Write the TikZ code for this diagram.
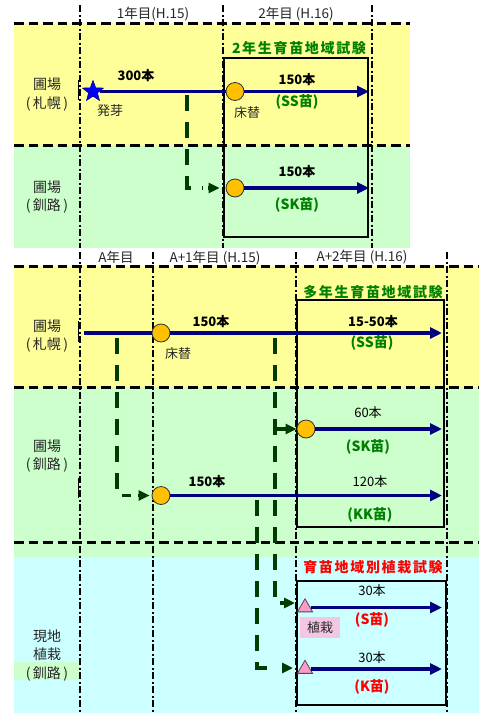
\documentclass[tikz,border=0pt]{standalone}
\usepackage{fontspec}
\setmainfont{Noto Sans CJK JP}
\newfontfamily\ttlfont[LetterSpace=12]{Noto Sans CJK JP}
\usetikzlibrary{shapes.geometric,arrows.meta}
\definecolor{bandY}{HTML}{FFFF99}
\definecolor{bandG}{HTML}{CCFFCC}
\definecolor{bandC}{HTML}{CCFFFF}
\definecolor{navy}{HTML}{000080}
\definecolor{tgreen}{HTML}{008000}
\definecolor{cgreen}{HTML}{003C00}
\definecolor{cfill}{HTML}{FFC000}
\definecolor{tfill}{HTML}{FF99CC}
\definecolor{pinkbg}{HTML}{F3C6E4}
\begin{document}
\begin{tikzpicture}[x=1pt,y=-1pt,
 hdash/.style={line width=3pt, dash pattern=on 9.5pt off 5pt},
 vdash/.style={line width=2pt, dash pattern=on 7pt off 2.5pt on 2pt off 2.5pt},
 flow/.style={navy, line width=3.8pt},
 flowarr/.style={flow, -{Triangle[length=12pt,width=11pt]}},
 conn/.style={cgreen, line width=3.5pt, dash pattern=on 16pt off 11pt},
 conntip/.style={cgreen, line width=3.5pt, -{Triangle[length=11pt,width=10pt]}},
 dot/.style={circle, fill=cfill, draw=black!80, line width=0.8pt, minimum size=18pt, inner sep=0pt},
 tri/.style={regular polygon, regular polygon sides=3, fill=tfill, draw=black!70, line width=0.8pt, minimum size=17.5pt, inner sep=0pt},
 lbl/.style={font=\fontsize{14}{18.5}\selectfont, align=center, inner sep=0pt, text=black!85},
 hdr/.style={font=\fontsize{13.5}{15}\selectfont, inner sep=0pt, text=black!85},
 num/.style={font=\bfseries\fontsize{13}{15}\selectfont, inner sep=0pt},
 numr/.style={font=\fontsize{13}{15}\selectfont, inner sep=0pt},
 kind/.style={font=\bfseries\fontsize{14}{16}\selectfont, inner sep=0pt},
 ttl/.style={font=\ttlfont\bfseries\fontsize{14}{16}\selectfont, inner sep=0pt},
 note/.style={font=\fontsize{13}{15}\selectfont, inner sep=0pt, text=black!85},
 trial/.style={draw=black, line width=1.6pt},
]
\useasboundingbox (0,0) rectangle (479,713);
\fill[white] (0,0) rectangle (479,713);
% bands
\fill[bandY] (14,23) rectangle (410,145);
\fill[bandG] (14,145) rectangle (410,248);
\fill[bandY] (14,266) rectangle (479,387);
\fill[bandG] (14,387) rectangle (479,557);
\fill[bandC] (14,557) rectangle (479,713);
\fill[bandG] (14,662) rectangle (80,680);
% grid lines
\draw[hdash] (14,23) -- (410,23);
\draw[hdash] (14,145) -- (410,145);
\draw[hdash] (14,266) -- (479,266);
\draw[hdash] (14,387) -- (479,387);
\draw[hdash] (14,542) -- (479,542);
\draw[vdash] (80,5) -- (80,248);
\draw[vdash] (223,5) -- (223,248);
\draw[vdash] (372,5) -- (372,248);
\draw[vdash] (80,252) -- (80,713);
\draw[vdash] (153,252) -- (153,713);
\draw[vdash] (296,252) -- (296,713);
\draw[vdash] (447,252) -- (447,713);
\draw[line width=1.2pt] (78.5,80) -- (78.5,100);
\draw[line width=1.2pt] (78.5,321) -- (78.5,342);
\draw[line width=1.2pt] (78.5,478) -- (78.5,498);
% trial boxes
\draw[trial] (224,58) rectangle (368,237);
\draw[trial] (297,300) rectangle (444,527);
\draw[trial] (297,581) rectangle (446,705);
% headers
\node[hdr] (h1) at (153,14) {1年目(H.15)};
\node[hdr] (h2) at (296,14) {2年目 (H.16)};
\node[hdr] (h3) at (116,257) {A年目};
\node[hdr] (h4) at (215,258) {A+1年目 (H.15)};
\node[hdr] (h5) at (362,257) {A+2年目 (H.16)};
% row labels
\node[lbl] (r1) at (47,94.5) {圃場\\(\,札幌\,)};
\node[lbl] (r2) at (47,197) {圃場\\(\,釧路\,)};
\node[lbl] (r3) at (47,336) {圃場\\(\,札幌\,)};
\node[lbl] (r4) at (47,456) {圃場\\(\,釧路\,)};
\node[lbl] (r5) at (47,655) {現地\\植栽\\(\,釧路\,)};
% titles
\node[ttl, text=tgreen] (ttl1) at (299,48) {2年生育苗地域試験};
\node[ttl, text=tgreen] (ttl2) at (373,292) {多年生育苗地域試験};
\node[ttl, text=red] (ttl3) at (373,567) {育苗地域別植栽試験};
% ---- top section ----
\node[star, star points=5, star point ratio=2.4, fill=blue, draw=navy, line width=0.6pt, minimum size=22pt, inner sep=0pt] (star) at (93,91.5) {};
\node[dot] (c1) at (235,91.5) {};
\coordinate (e1) at (369,91.5);
\draw[flow] (star) -- (c1);
\draw[flowarr] (c1) -- (e1);
\node[num] (n300) at (136,76) {300本};
\node[note] (hatsuga) at (110,111) {発芽};
\node[num] (n150a) at (297,80) {150本};
\node[kind, text=tgreen] (ss1) at (297,102) {(SS苗)};
\node[note] (toko1) at (247,113) {床替};
\node[dot] (c2) at (235,188) {};
\coordinate (e2) at (369,188);
\draw[flowarr] (c2) -- (e2);
\node[num] (n150b) at (297,172) {150本};
\node[kind, text=tgreen] (sk1) at (297,205) {(SK苗)};
\coordinate (s1) at (187,95);
\coordinate (k1) at (203,188);
\coordinate (a1) at (208,188);
\draw[conn] (s1) |- (k1);
\draw[conntip] (a1) -- ([xshift=-6pt]c2.west);
% ---- bottom section ----
\coordinate (sA) at (84,333);
\node[dot] (c3) at (161,333) {};
\coordinate (eA) at (442,333);
\draw[flow] (sA) -- (c3);
\draw[flowarr] (c3) -- (eA);
\node[num] (n150c) at (211,322) {150本};
\node[note] (toko2) at (178,354) {床替};
\node[num] (n1550) at (373,322) {15-50本};
\node[kind, text=tgreen] (ss2) at (372,343) {(SS苗)};
% Kushiro nursery
\node[dot] (c4) at (161,495.5) {};
\coordinate (eB) at (442,495.5);
\draw[flowarr] (c4) -- (eB);
\node[num] (n150d) at (207,482) {150本};
\node[numr] (n120) at (370,482) {120本};
\node[kind, text=tgreen] (kk) at (370,515) {(KK苗)};
\node[dot] (c5) at (306,429) {};
\coordinate (eC) at (442,429);
\draw[flowarr] (c5) -- (eC);
\node[numr] (n60) at (368,413) {60本};
\node[kind, text=tgreen] (sk2) at (368,447) {(SK苗)};
% field planting
\node[tri] (t1) at (305,607.5) {};
\coordinate (eD) at (442,607.5);
\draw[flowarr] (t1) -- (eD);
\node[tri] (t2) at (305,669) {};
\coordinate (eE) at (442,669);
\draw[flowarr] (t2) -- (eE);
\node[numr] (n30a) at (372,591) {30本};
\node[kind, text=red] (s3) at (372,619.5) {(S苗)};
\node[note, fill=pinkbg, minimum width=40pt, minimum height=21pt] (shoku) at (320,627.5) {植栽};
\node[numr] (n30b) at (372,658) {30本};
\node[kind, text=red] (k3) at (372,687) {(K苗)};
% dashed connectors
\coordinate (s2) at (117,338);
\coordinate (k2) at (131,495.5);
\coordinate (a2) at (138,495.5);
\draw[conn] (s2) |- (k2);
\draw[conntip] (a2) -- ([xshift=-2pt]c4.west);
\coordinate (s3c) at (275,338);
\coordinate (k3c) at (283,603);
\draw[conn] (s3c) |- (k3c);
\coordinate (a3) at (295,603);
\draw[conntip] (k3c) -- (a3);
\coordinate (j2) at (275,429);
\coordinate (b2) at (285,429);
\draw[conn] (j2) -- (b2);
\draw[conntip] (b2) -- (c5.west);
\coordinate (s4) at (257,500);
\coordinate (k4) at (273,668);
\coordinate (a4) at (282,668);
\coordinate (a4e) at (293,668);
\draw[conn] (s4) |- (k4);
\draw[conntip] (a4) -- (a4e);
\end{tikzpicture}
\end{document}
